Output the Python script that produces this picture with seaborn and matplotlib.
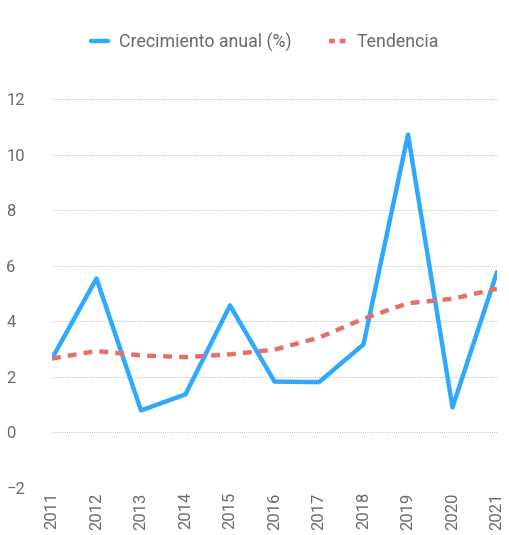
import pandas as pd
import numpy as np
import matplotlib
matplotlib.use("Agg")
import matplotlib.pyplot as plt
import seaborn as sns

years = [2011, 2012, 2013, 2014, 2015, 2016, 2017, 2018, 2019, 2020, 2021]
crecimiento = [2.66, 5.54, 0.79, 1.37, 4.57, 1.83, 1.81, 3.17, 10.72, 0.90, 5.77]
tendencia = [2.66, 2.93, 2.77, 2.71, 2.81, 2.98, 3.41, 4.09, 4.65, 4.81, 5.17]
yticks = [-2, 0, 2, 4, 6, 8, 10, 12]

sns.set_style("white")
plt.rcParams['font.family'] = ['Roboto', 'DejaVu Sans']

df = pd.DataFrame({'year': years, 'Crecimiento anual (%)': crecimiento, 'Tendencia': tendencia})

fig = plt.figure(figsize=(5.09, 5.35), dpi=100)
ax = fig.add_axes([52 / 509, 1 - 488 / 535, (497 - 52) / 509, (488 - 99) / 535])

sns.lineplot(data=df, x='year', y='Crecimiento anual (%)', ax=ax, color='#2FA9FF',
             linewidth=3.2, label='Crecimiento anual (%)')
sns.lineplot(data=df, x='year', y='Tendencia', ax=ax, color='#E5706B',
             linewidth=3.2, linestyle=(0, (2, 1.6)), label='Tendencia')

ax.set_xlim(2011, 2021)
ax.set_ylim(-2, 12)
ax.set_yticks(yticks)
ax.set_xticks(years)
ax.set_xticklabels([str(y) for y in years], rotation=90)
ax.set_xlabel('')
ax.set_ylabel('')
ax.grid(axis='y', color='#aaaaaa', linestyle=(0, (1, 1.5)), linewidth=0.6)
ax.set_axisbelow(True)
for s in ax.spines.values():
    s.set_visible(False)
ax.tick_params(axis='both', length=0, labelsize=12, colors='#6b6b6b')
ax.tick_params(axis='y', pad=33)
for lbl in ax.get_yticklabels():
    lbl.set_horizontalalignment('left')
ax.tick_params(axis='x', pad=3)

leg = ax.legend(loc='center', bbox_to_anchor=(265 / 509, (535 - 42) / 535), bbox_transform=fig.transFigure,
                ncol=2, frameon=False, fontsize=12.8, handlelength=0.95, columnspacing=2.1,
                handletextpad=0.6)
for t in leg.get_texts():
    t.set_color('#6b6b6b')
leg.get_lines()[1].set_linestyle((0, (1.3, 1.1)))

fig.savefig('out.png', dpi=100)
plt.close()
